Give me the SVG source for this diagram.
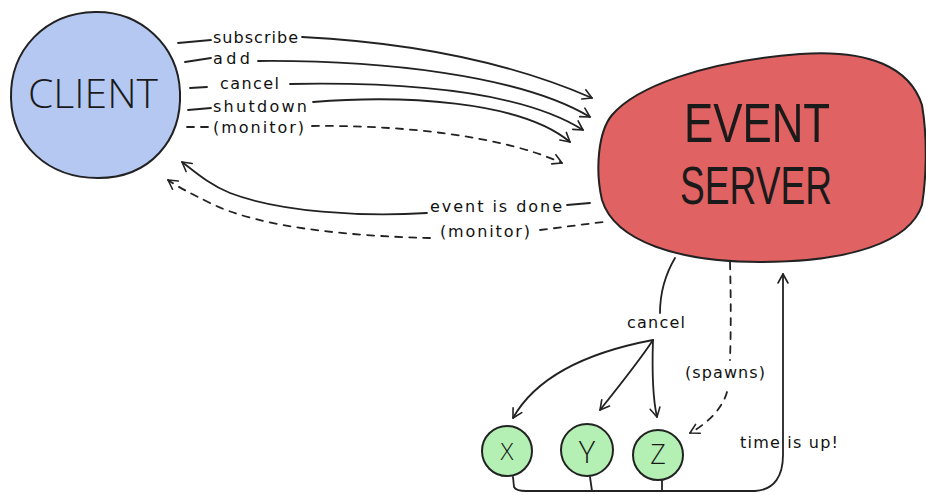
<svg xmlns="http://www.w3.org/2000/svg" width="926" height="495" viewBox="0 0 926 495">
<defs>
<marker id="arr" viewBox="-11 -7 13 14" refX="0" refY="0" markerWidth="13" markerHeight="14" markerUnits="userSpaceOnUse" orient="auto">
<path d="M-9,-5 L0,0 L-9,5" fill="none" stroke="#222" stroke-width="1.6" stroke-linecap="round" stroke-linejoin="round"/>
</marker>
</defs>
<style>
.edge{fill:none;stroke:#222;stroke-width:1.8;stroke-linecap:round}
.dash{stroke-dasharray:7 7}
.lbl{font-family:"DejaVu Sans",sans-serif;font-size:16px;fill:#111}
.big{font-family:"Open Sans","Liberation Sans",sans-serif;font-weight:300;fill:#1a1a1a}
.srv{font-family:"Liberation Sans",sans-serif;fill:#1a1a1a}
.node{stroke:#222;stroke-width:2}
</style>
<rect width="926" height="495" fill="#fff"/>

<g id="client">
<path class="node" fill="#b4c8f2" d="M95,12 C140,11 178,45 180,92 C182,140 150,178 98,178 C48,178 12,145 11,98 C10,50 45,13 95,12 Z"/>
<text class="big" x="28" y="108" font-size="40" textLength="130" lengthAdjust="spacingAndGlyphs">CLIENT</text>
</g>

<g id="event-server">
<path class="node" fill="#e06262" d="M612,115 C635,88 700,62 800,54 C870,49 910,68 922,105 C928,140 926,180 922,205 C910,242 850,262 760,262 C680,262 615,242 602,200 C595,170 598,132 612,115 Z"/>
<text class="srv" x="684" y="142" font-size="56" textLength="146" lengthAdjust="spacingAndGlyphs">EVENT</text>
<text class="srv" x="680" y="204" font-size="53" textLength="152" lengthAdjust="spacingAndGlyphs">SERVER</text>
</g>

<g id="x">
<circle class="node" fill="#b4f0b4" cx="507" cy="451" r="25"/>
<text class="big" x="507" y="460" font-size="24" text-anchor="middle">X</text>
</g>
<g id="y">
<circle class="node" fill="#b4f0b4" cx="587" cy="450" r="26"/>
<text class="big" x="587" y="463" font-size="31" text-anchor="middle">Y</text>
</g>
<g id="z">
<circle class="node" fill="#b4f0b4" cx="658" cy="455" r="25"/>
<text class="big" x="658" y="464" font-size="27" text-anchor="middle">Z</text>
</g>

<g id="connectors">
<path class="edge" d="M178,43 L211,40"/>
<path class="edge" d="M302,37 C400,42 500,58 592,98" marker-end="url(#arr)"/>
<path class="edge" d="M185,62 L211,58"/>
<path class="edge" d="M258,61 C380,60 520,75 590,117" marker-end="url(#arr)"/>
<path class="edge" d="M190,88 L207,87"/>
<path class="edge" d="M290,84 C400,82 520,90 583,130" marker-end="url(#arr)"/>
<path class="edge" d="M188,110 L211,108"/>
<path class="edge" d="M313,102 C400,95 520,100 570,142" marker-end="url(#arr)"/>
<path class="edge dash" d="M187,127 L210,127"/>
<path class="edge dash" d="M312,126 C400,125 500,135 562,163" marker-end="url(#arr)"/>
<path class="edge" d="M567,205 L590,203"/>
<path class="edge" d="M427,213 C360,217 280,212 230,193 C210,185 195,172 182,162" marker-end="url(#arr)"/>
<path class="edge dash" d="M540,230 L603,222"/>
<path class="edge dash" d="M430,238 C350,236 260,228 210,203 C190,193 178,187 168,180" marker-end="url(#arr)"/>
<path class="edge" d="M675,258 C665,275 660,295 660,313"/>
<path class="edge" d="M653,340 C600,350 540,370 513,418" marker-end="url(#arr)"/>
<path class="edge" d="M653,340 C640,360 620,385 600,410" marker-end="url(#arr)"/>
<path class="edge" d="M653,340 C652,370 652,395 657,417" marker-end="url(#arr)"/>
<path class="edge dash" d="M730,262 C731,300 731,330 730,360"/>
<path class="edge dash" d="M727,392 C722,410 705,425 690,433" marker-end="url(#arr)"/>
<path class="edge" d="M513,477 L514,487 Q516,491 526,491 L755,491 C775,490 783,475 783,455 L783,274" marker-end="url(#arr)"/>
<path class="edge" d="M590,477 L592,491"/>
<path class="edge" d="M662,480 L662,491"/>

<text class="lbl" x="213" y="43" textLength="85" lengthAdjust="spacing">subscribe</text>
<text class="lbl" x="213" y="64" textLength="37" lengthAdjust="spacing">add</text>
<text class="lbl" x="220" y="89" textLength="59" lengthAdjust="spacing">cancel</text>
<text class="lbl" x="213" y="112" textLength="94" lengthAdjust="spacing">shutdown</text>
<text class="lbl" x="213" y="133" textLength="91" lengthAdjust="spacing">(monitor)</text>
<text class="lbl" x="430" y="212" textLength="132" lengthAdjust="spacing">event is done</text>
<text class="lbl" x="440" y="237" textLength="90" lengthAdjust="spacing">(monitor)</text>
<text class="lbl" x="627" y="328" textLength="58" lengthAdjust="spacing">cancel</text>
<text class="lbl" x="685" y="378" textLength="80" lengthAdjust="spacing">(spawns)</text>
<text class="lbl" x="740" y="448" textLength="98" lengthAdjust="spacing">time is up!</text>
</g>
</svg>
